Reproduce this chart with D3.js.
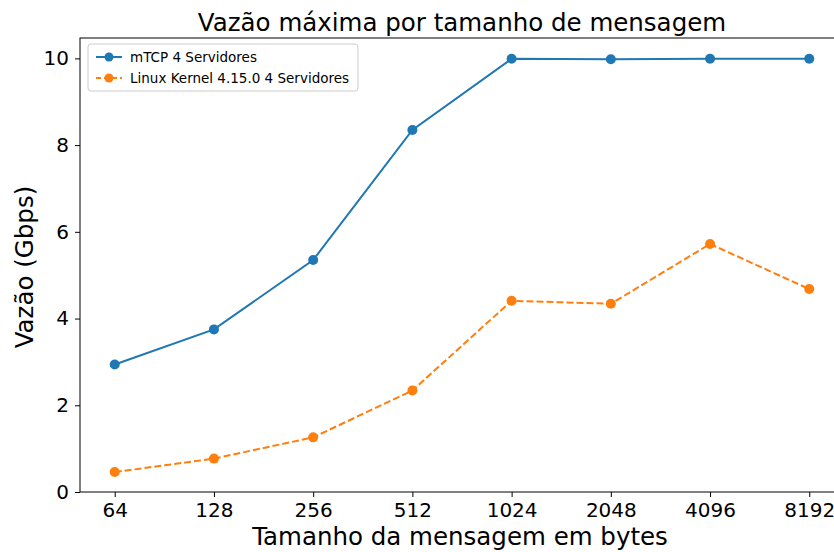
<!DOCTYPE html>
<html>
<head>
<meta charset="utf-8">
<script src="https://cdn.jsdelivr.net/npm/d3@7"></script>
<style>
  body { margin: 0; background: #fff; }
  svg { display: block; font-family: "DejaVu Sans", sans-serif; }
</style>
</head>
<body>
<div id="chart"></div>
<script>
const sizes = ["64", "128", "256", "512", "1024", "2048", "4096", "8192"];
const mtcp = [2.94, 3.75, 5.35, 8.35, 9.99, 9.98, 9.99, 9.99];
const linux = [0.46, 0.77, 1.26, 2.34, 4.41, 4.34, 5.72, 4.68];
const yTicks = [0, 2, 4, 6, 8, 10];
const seriesNames = ["mTCP 4 Servidores", "Linux Kernel 4.15.0 4 Servidores"];

const W = 834, H = 552;
const margin = { top: 38, right: -10, bottom: 60, left: 80 };
const width = W - margin.left - margin.right;
const height = H - margin.top - margin.bottom;

const svgRoot = d3.select("#chart").append("svg")
  .attr("width", W)
  .attr("height", H);

const svg = svgRoot.append("g")
  .attr("transform", `translate(${margin.left},${margin.top})`);

const step = width / (sizes.length - 1 + 0.7);
const x = d3.scalePoint()
  .domain(sizes)
  .range([0.35 * step, width - 0.35 * step]);

const y = d3.scaleLinear().domain([0, 10.47]).range([height, 0]);

// frame
svg.append("rect")
  .attr("width", width)
  .attr("height", height)
  .attr("fill", "none")
  .attr("stroke", "#000")
  .attr("stroke-width", 1);

const xAxis = svg.append("g")
  .attr("transform", `translate(0,${height})`)
  .call(d3.axisBottom(x).tickSize(5).tickPadding(6));
xAxis.select(".domain").remove();
xAxis.selectAll("text").attr("font-size", 20).attr("fill", "#000").attr("font-family", "DejaVu Sans");

const yAxis = svg.append("g")
  .call(d3.axisLeft(y).tickValues(yTicks).tickSize(5).tickPadding(6));
yAxis.select(".domain").remove();
yAxis.selectAll("text").attr("font-size", 20).attr("fill", "#000").attr("font-family", "DejaVu Sans");

const series = [
  { name: seriesNames[0], values: mtcp, color: "#1f77b4", dash: null },
  { name: seriesNames[1], values: linux, color: "#ff7f0e", dash: "7,3" }
];

const line = d3.line()
  .x((d, i) => x(sizes[i]))
  .y(d => y(d));

series.forEach(s => {
  svg.append("path")
    .attr("fill", "none")
    .attr("stroke", s.color)
    .attr("stroke-width", 2)
    .attr("stroke-dasharray", s.dash)
    .attr("d", line(s.values));

  svg.selectAll(null)
    .data(s.values)
    .enter()
    .append("circle")
    .attr("cx", (d, i) => x(sizes[i]))
    .attr("cy", d => y(d))
    .attr("r", 5)
    .attr("fill", s.color);
});

// title & axis labels
svgRoot.append("text")
  .attr("x", 462)
  .attr("y", 31)
  .attr("text-anchor", "middle")
  .attr("font-size", 24.5)
  .text("Vazão máxima por tamanho de mensagem");

svgRoot.append("text")
  .attr("x", 460)
  .attr("y", 545)
  .attr("text-anchor", "middle")
  .attr("font-size", 24.5)
  .text("Tamanho da mensagem em bytes");

svgRoot.append("text")
  .attr("transform", `translate(33,${margin.top + height / 2 + 2}) rotate(-90)`)
  .attr("text-anchor", "middle")
  .attr("font-size", 24.5)
  .text("Vazão (Gbps)");

// legend
const legend = svg.append("g").attr("transform", "translate(8,6)");
legend.append("rect")
  .attr("width", 270)
  .attr("height", 47)
  .attr("rx", 3)
  .attr("fill", "#fff")
  .attr("fill-opacity", 0.8)
  .attr("stroke", "#ccc");

series.forEach((s, i) => {
  const g = legend.append("g").attr("transform", `translate(8,${13 + i * 21})`);
  g.append("line")
    .attr("x1", 0).attr("x2", 26)
    .attr("stroke", s.color)
    .attr("stroke-width", 2)
    .attr("stroke-dasharray", s.dash ? "5,3" : null);
  g.append("circle").attr("cx", 13).attr("r", 4.5).attr("fill", s.color);
  g.append("text")
    .attr("x", 34)
    .attr("dy", "0.35em")
    .attr("font-size", 13.5)
    .text(s.name);
});
</script>
</body>
</html>
